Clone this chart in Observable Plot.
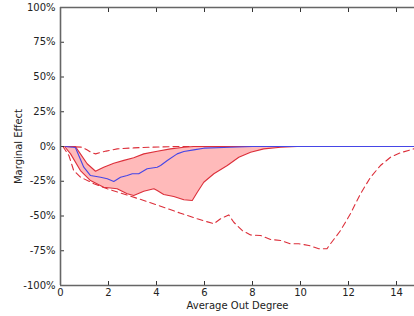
<!DOCTYPE html>
<html>
<head>
<meta charset="utf-8">
<script src="https://cdn.jsdelivr.net/npm/d3@7"></script>
<script src="https://cdn.jsdelivr.net/npm/@observablehq/plot@0.6"></script>
<style>
  html, body { margin: 0; padding: 0; background: #fff; overflow: hidden; }
  #chart { width: 414px; height: 316px; }
</style>
</head>
<body>
<div id="chart"></div>
<script>
// Mean marginal effect (blue)
const meanX = [0.2, 0.62, 0.97, 1.25, 1.67, 1.95, 2.22, 2.5, 2.78, 2.99, 3.26, 3.61, 4.03, 4.17, 4.45, 4.86, 5.14, 5.55, 5.97, 7.08, 8.0, 10.0, 12.0, 14.75];
const meanY = [0, -0.007, -0.149, -0.209, -0.221, -0.232, -0.252, -0.221, -0.209, -0.196, -0.196, -0.160, -0.149, -0.137, -0.101, -0.053, -0.036, -0.024, -0.012, -0.005, 0, 0, 0, 0];

// Upper confidence bound (solid red)
const upperX = [0.3, 0.62, 0.83, 1.11, 1.46, 1.67, 1.8, 2.22, 2.64, 3.05, 3.47, 4.03, 4.58, 5.14, 5.55, 8.0, 9.86];
const upperY = [0, 0, -0.053, -0.124, -0.178, -0.160, -0.149, -0.120, -0.100, -0.081, -0.053, -0.034, -0.017, -0.005, 0, 0, 0];

// Lower confidence bound (solid red)
const lowerX = [0.17, 0.42, 0.83, 1.25, 1.8, 2.36, 2.78, 3.05, 3.47, 3.89, 4.03, 4.3, 4.72, 5.14, 5.49, 5.7, 5.97, 6.39, 6.95, 7.43, 7.92, 8.47, 9.17, 9.86];
const lowerY = [0, -0.053, -0.173, -0.245, -0.293, -0.304, -0.340, -0.353, -0.322, -0.304, -0.317, -0.345, -0.360, -0.383, -0.388, -0.329, -0.257, -0.196, -0.137, -0.077, -0.041, -0.017, -0.005, 0];

// Upper extreme (dashed red)
const dashUpX = [0.2, 0.9, 1.1, 1.3, 1.46, 1.67, 1.9, 2.36, 3.05, 3.75, 4.86, 10.0, 14.75];
const dashUpY = [0, -0.005, -0.024, -0.045, -0.053, -0.043, -0.033, -0.017, -0.010, -0.005, 0, 0, 0];

// Lower extreme (dashed red)
const dashLoX = [0.1, 0.35, 0.55, 0.83, 1.39, 1.95, 2.78, 3.47, 4.17, 5.0, 5.7, 6.39, 6.67, 7.01, 7.22, 7.57, 7.92, 8.33, 8.75, 9.17, 9.58, 9.93, 10.35, 10.76, 11.1, 11.25, 11.67, 12.08, 12.5, 12.92, 13.33, 13.75, 14.17, 14.72];
const dashLoY = [0, -0.065, -0.173, -0.22, -0.268, -0.304, -0.35, -0.388, -0.43, -0.48, -0.52, -0.556, -0.52, -0.492, -0.545, -0.604, -0.636, -0.64, -0.669, -0.676, -0.70, -0.70, -0.712, -0.736, -0.736, -0.70, -0.604, -0.484, -0.340, -0.221, -0.137, -0.077, -0.045, -0.017];

const xTicks = [0, 2, 4, 6, 8, 10, 12, 14];
const yTicks = [-1, -0.75, -0.5, -0.25, 0, 0.25, 0.5, 0.75, 1];

const pts = (xs, ys) => xs.map((x, i) => ({x, y: ys[i]}));
const mean = pts(meanX, meanY);
const upper = pts(upperX, upperY);
const lower = pts(lowerX, lowerY);
const dashUp = pts(dashUpX, dashUpY);
const dashLo = pts(dashLoX, dashLoY);
const band = upper.concat(lower.slice().reverse());

const RED = "#dc2f3a";
const chart = Plot.plot({
  width: 414,
  height: 316,
  marginLeft: 60,
  marginRight: 0,
  marginTop: 7,
  marginBottom: 31,
  style: {fontFamily: "DejaVu Sans", fontSize: "10px", color: "#222", background: "#fff"},
  x: {domain: [0, 14.75]},
  y: {domain: [-1, 1]},
  marks: [
    Plot.line(band, {x: "x", y: "y", fill: "#ffbaba", stroke: "none", curve: "linear"}),
    Plot.line(dashUp, {x: "x", y: "y", stroke: RED, strokeWidth: 1.1, strokeDasharray: "6,4"}),
    Plot.line(dashLo, {x: "x", y: "y", stroke: RED, strokeWidth: 1.1, strokeDasharray: "6,4"}),
    Plot.line(upper, {x: "x", y: "y", stroke: RED, strokeWidth: 1.1}),
    Plot.line(lower, {x: "x", y: "y", stroke: RED, strokeWidth: 1.1}),
    Plot.line(mean, {x: "x", y: "y", stroke: "#4646e6", strokeWidth: 1.1}),
    Plot.axisX(xTicks, {anchor: "bottom", tickSize: -4, tickPadding: 7, stroke: "#333", label: "Average Out Degree", labelAnchor: "center", labelArrow: "none", labelOffset: 23}),
    Plot.axisX(xTicks, {anchor: "top", tickSize: -4, tickFormat: () => "", stroke: "#333", label: null}),
    Plot.axisY(yTicks, {anchor: "left", tickSize: -4, tickPadding: 9, stroke: "#333", tickFormat: d => `${Math.round(d * 100)}%`, label: "Marginal Effect", labelAnchor: "center", labelArrow: "none", labelOffset: 46}),
    Plot.ruleY([1], {stroke: "#666", strokeWidth: 1.6}),
    Plot.ruleY([-1], {stroke: "#666", strokeWidth: 1.6}),
    Plot.ruleX([0], {stroke: "#666", strokeWidth: 1.6})
  ]
});
document.getElementById("chart").appendChild(chart);
</script>
</body>
</html>
